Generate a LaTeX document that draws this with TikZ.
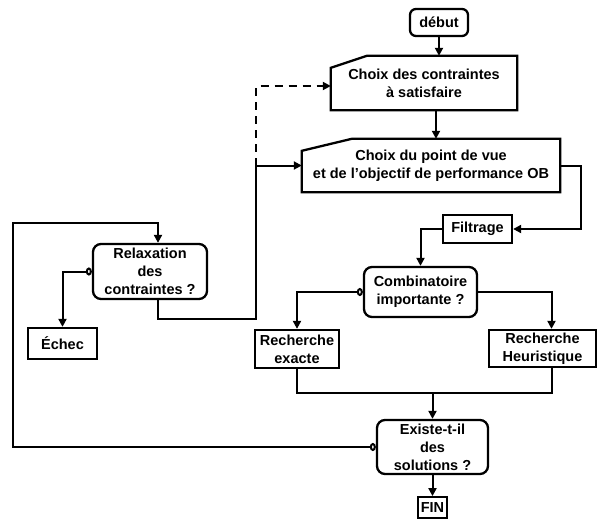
\documentclass[tikz,border=0pt]{standalone}
\usepackage{fontspec}
\setmainfont{Liberation Sans}[Ligatures=ResetAll]
\usepackage{tikz}
\usetikzlibrary{positioning,arrows.meta}

\tikzset{
  txt/.style={font=\fontsize{14.5}{18}\selectfont\bfseries, align=center, inner sep=0pt},
  boite/.style={txt, draw, line width=2.3pt},
  arrondi/.style={boite, rounded corners=8pt},
  fleche/.style={line width=2pt, -{Triangle[length=8pt,width=8pt]}},
  rond/.style={line width=2pt, {Circle[open,length=6pt,width=8pt]}-{Triangle[length=8pt,width=8pt]}},
  trait/.style={line width=2pt},
}
% cadre d'entree manuelle (coin haut gauche biseaute)
\newcommand{\bordsaisie}[2]{%
  \draw[line width=2.3pt, line join=miter] (#1.south west) -- ([yshift=-12pt]#1.north west)
    -- ([xshift=#2]#1.north west) -- (#1.north east) -- (#1.south east) -- cycle;}

\begin{document}
\begin{tikzpicture}[x=1pt,y=-1pt]
  \useasboundingbox (0,0) rectangle (608,520);

  % etapes
  \node[arrondi, rounded corners=6pt, minimum width=58pt, minimum height=27pt] (debut) at (439,22.5) {début};
  \node[txt, minimum width=186pt, minimum height=54pt] (choixC) at (424,83) {Choix des contraintes\\à satisfaire};
  \bordsaisie{choixC}{36pt}
  \node[txt, minimum width=258pt, minimum height=53pt] (choixP) at (431,165.5) {Choix du point de vue\\et de l'objectif de performance OB};
  \bordsaisie{choixP}{50pt}
  \node[boite, minimum width=69pt, minimum height=28pt] (filtrage) at (477.5,229) {Filtrage};
  \node[arrondi, minimum width=113pt, minimum height=50pt] (combi) at (420.5,292) {Combinatoire\\importante ?};
  \node[boite, minimum width=84pt, minimum height=38pt] (exacte) at (297,349) {Recherche\\exacte};
  \node[boite, minimum width=107pt, minimum height=37pt] (heur) at (542.5,348.5) {Recherche\\Heuristique};
  \node[arrondi, minimum width=111pt, minimum height=54pt] (existe) at (432.5,447) {Existe-t-il\\des\\solutions ?};
  \node[boite, line width=1.8pt, minimum width=29pt, minimum height=21pt] (fin) at (432.5,507.5) {FIN};
  \node[arrondi, minimum width=114pt, minimum height=55pt] (relax) at (150,271.5) {Relaxation\\des\\contraintes ?};
  \node[boite, minimum width=69pt, minimum height=31pt] (echec) at (62.5,343.5) {Échec};

  \coordinate (fusion) at (432.5,393);
  \coordinate (bas) at (256,319);
  \coordinate (boucle) at (13,223);

  % liaisons
  \draw[fleche] (debut.south) -- (debut.south |- choixC.north);
  \draw[fleche] ([xshift=12pt]choixC.south) -- ([xshift=12pt]choixC.south |- choixP.north);
  \draw[fleche] (choixP.east) -- ++(21,0) |- (filtrage.east);
  \draw[fleche] (filtrage.west) -| (combi.north);
  \draw[rond] (combi.west) -| (exacte.north);
  \draw[fleche] (combi.east) -| ([xshift=9pt]heur.north);
  \draw[trait] (exacte.south) |- (fusion);
  \draw[trait] ([xshift=9pt]heur.south) |- (fusion);
  \draw[fleche] (fusion) -- (existe.north);
  \draw[fleche] (existe.south) -- (fin.north);
  \draw[rond] (existe.west) -| (boucle) -| ([xshift=8pt]relax.north);
  \draw[rond] (relax.west) -| (echec.north);
  \draw[fleche] ([xshift=8pt]relax.south) |- (bas) |- (choixP.west);
  \draw[fleche, dash pattern=on 8pt off 6pt] (bas |- choixP.west) |- ([yshift=-3pt]choixC.west);
\end{tikzpicture}
\end{document}
